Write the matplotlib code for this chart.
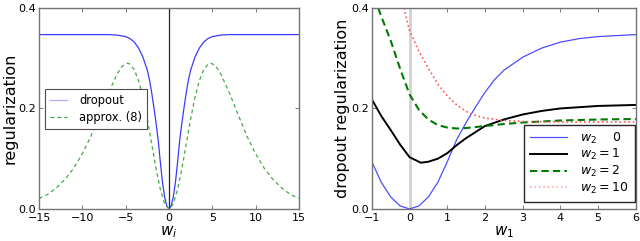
import matplotlib
matplotlib.use("Agg")
import matplotlib.pyplot as plt
import numpy as np

# ---------------- data ----------------
# left panel: dropout regularization vs w_i (symmetric curve, right half listed)
w_half = [0, 0.25, 0.5, 0.75, 1.0, 1.25, 1.5, 1.75, 2.0, 2.25, 2.5, 3.0, 3.5,
          4.0, 4.5, 5.0, 6.0, 7.0, 8.0, 10.0, 12.0, 15.0]
dropout_half = [0.0, 0.006, 0.024, 0.053, 0.094, 0.138, 0.172, 0.203, 0.232,
                0.257, 0.276, 0.302, 0.320, 0.332, 0.339, 0.343, 0.346, 0.347,
                0.347, 0.347, 0.347, 0.347]
w_approx_half = [0, 0.5, 1.0, 1.5, 2.0, 2.5, 3.0, 3.5, 4.0, 4.5, 4.75, 5.0, 5.5,
                 6.0, 7.0, 8.0, 9.0, 10.0, 11.0, 12.0, 13.0, 14.0, 15.0]
approx_half = [0.0, 0.010, 0.039, 0.081, 0.130, 0.179, 0.222, 0.255, 0.277,
               0.288, 0.290, 0.289, 0.282, 0.268, 0.230, 0.187, 0.145, 0.110,
               0.081, 0.059, 0.042, 0.029, 0.021]

# right panel: dropout regularization vs w_1 for several w_2
w1_blue = [-1.0, -0.75, -0.5, -0.25, 0.0, 0.25, 0.5, 0.75, 1.0, 1.25, 1.5, 1.75,
           2.0, 2.25, 2.5, 3.0, 3.5, 4.0, 4.5, 5.0, 6.0]
reg_w2_0 = [0.094, 0.053, 0.024, 0.006, 0.0, 0.006, 0.024, 0.053, 0.094, 0.138,
            0.172, 0.203, 0.232, 0.257, 0.276, 0.302, 0.320, 0.332, 0.339, 0.343,
            0.347]
w1_black = [-1.0, -0.75, -0.5, -0.25, 0.0, 0.3, 0.5, 0.75, 1.0, 1.25, 1.5, 2.0,
            2.5, 3.0, 3.5, 4.0, 5.0, 6.0]
reg_w2_1 = [0.218, 0.185, 0.157, 0.128, 0.103, 0.092, 0.094, 0.100, 0.111, 0.127,
            0.141, 0.165, 0.178, 0.188, 0.195, 0.200, 0.205, 0.207]
w1_green = [-0.83, -0.75, -0.5, -0.25, 0.0, 0.25, 0.5, 0.75, 1.0, 1.25, 1.5, 2.0,
            2.5, 3.0, 4.0, 5.0, 6.0]
reg_w2_2 = [0.400, 0.383, 0.335, 0.279, 0.228, 0.197, 0.178, 0.167, 0.162, 0.160,
            0.161, 0.165, 0.169, 0.172, 0.176, 0.178, 0.179]
w1_red = [-0.15, 0.0, 0.25, 0.5, 0.75, 1.0, 1.25, 1.5, 1.75, 2.0, 2.5, 3.0, 4.0,
          5.0, 6.0]
reg_w2_10 = [0.400, 0.355, 0.313, 0.280, 0.248, 0.225, 0.207, 0.194, 0.186, 0.181,
             0.176, 0.174, 0.173, 0.173, 0.173]

left_xticks = [-15, -10, -5, 0, 5, 10, 15]
right_xticks = [-1, 0, 1, 2, 3, 4, 5, 6]
yticks = [0.0, 0.2, 0.4]
right_labels = [r"$w_2\ \ \ \ 0$", r"$w_2=1$", r"$w_2=2$", r"$w_2=10$"]

# full symmetric curves for the left panel
w_left = [-v for v in w_half[::-1]] + w_half[1:]
dropout_left = dropout_half[::-1] + dropout_half[1:]
w_appr = [-v for v in w_approx_half[::-1]] + w_approx_half[1:]
approx_left = approx_half[::-1] + approx_half[1:]

plt.rcParams['font.family'] = ['DejaVu Sans']
fig = plt.figure(figsize=(6.4, 2.41), dpi=100)

def style_axes(ax):
    for s in ax.spines.values():
        s.set_color('0.45')
        s.set_linewidth(1.0)
    ax.tick_params(direction='in', length=3, width=0.6, color='0.4',
                   top=True, right=True, labelsize=8, pad=2)
    ax.tick_params(axis='x', pad=3)

# ---------------- left panel ----------------
ax1 = fig.add_axes([0.061, 0.133, 0.406, 0.834])
ax1.axvline(0, color='0.15', lw=0.9)
ax1.plot(w_left, dropout_left, color='#3a3aff', lw=0.9, label='dropout')
ax1.plot(w_appr, approx_left, color='#44aa44', lw=0.9, ls=(0, (3, 2.5)),
         label='approx. (8)')
ax1.set_xlim(-15, 15)
ax1.set_ylim(0, 0.4)
ax1.set_xticks(left_xticks)
ax1.set_yticks(yticks)
ax1.set_yticklabels(['%.1f' % v for v in yticks])
ax1.set_xlabel(r'$w_i$', fontsize=11, labelpad=1)
ax1.set_ylabel('regularization', fontsize=11.5, labelpad=1)
style_axes(ax1)
leg1 = ax1.legend(loc='upper left', bbox_to_anchor=(0.023, 0.597), fontsize=8.3,
                  fancybox=False, framealpha=1, edgecolor='0.3',
                  handlelength=1.5, handletextpad=1.0, borderpad=0.45,
                  labelspacing=0.3, borderaxespad=0)
leg1.get_frame().set_linewidth(0.8)
leg1.get_lines()[0].set_color('#b0b0ff')

# ---------------- right panel ----------------
ax2 = fig.add_axes([0.581, 0.133, 0.4125, 0.834])
ax2.axvline(0, color='0.82', lw=2.0)
ax2.plot(w1_blue, reg_w2_0, color='#4d4dff', lw=0.9, label=right_labels[0])
ax2.plot(w1_black, reg_w2_1, color='black', lw=1.4, label=right_labels[1])
ax2.plot(w1_green, reg_w2_2, color='#007a00', lw=1.5, ls=(0, (3.5, 2)),
         label=right_labels[2])
ax2.plot(w1_red, reg_w2_10, color='#ff5555', lw=1.2, ls=':',
         label=right_labels[3])
ax2.set_xlim(-1, 6)
ax2.set_ylim(0, 0.4)
ax2.set_xticks(right_xticks)
ax2.set_yticks(yticks)
ax2.set_yticklabels(['%.1f' % v for v in yticks])
ax2.set_xlabel(r'$w_1$', fontsize=11, labelpad=1)
ax2.set_ylabel('dropout regularization', fontsize=11.5, labelpad=1)
style_axes(ax2)
leg2 = ax2.legend(loc='lower right', bbox_to_anchor=(0.996, 0.035), fontsize=9,
                  fancybox=False, framealpha=1, edgecolor='0.15',
                  handlelength=3.0, borderpad=0.5, labelspacing=0.12,
                  handletextpad=1.0, borderaxespad=0)
leg2.get_frame().set_linewidth(1.0)
leg2.get_lines()[3].set_color('#ffaaaa')

fig.savefig('out.png', dpi=100)
